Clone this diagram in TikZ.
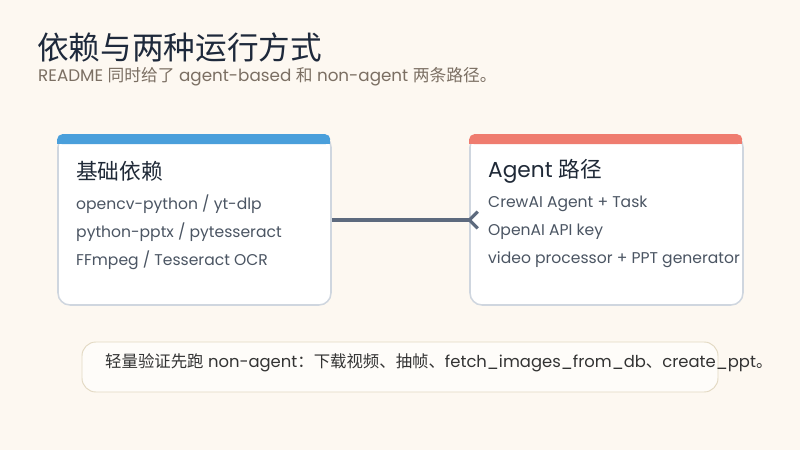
\documentclass[tikz,border=0pt]{standalone}
\usepackage{fontspec}
\setmainfont{Poppins}
\newfontfamily\cjk{Noto Sans CJK SC}
\usetikzlibrary{arrows.meta}
\definecolor{pagebg}{HTML}{FDF8F1}
\definecolor{titletext}{HTML}{1E293B}
\definecolor{subtext}{HTML}{7B6F63}
\definecolor{headtext}{HTML}{1F2937}
\definecolor{bodytext}{HTML}{4B5563}
\definecolor{cardline}{HTML}{CFD6DF}
\definecolor{barblue}{HTML}{4A9FDB}
\definecolor{barred}{HTML}{EF7C6F}
\definecolor{linkcol}{HTML}{5D6A7E}
\definecolor{noteline}{HTML}{E3D9C3}
\definecolor{notetext}{HTML}{333333}

\begin{document}
\begin{tikzpicture}[x=0.03cm,y=-0.03cm,
	every node/.style={inner sep=0pt,anchor=west},
	card/.style={draw=cardline, line width=1.3pt, fill=white, rounded corners=0.36cm, minimum width=8.19cm, minimum height=5.1cm, anchor=center},
	head/.style={font=\fontsize{18.5}{22}\selectfont, text=headtext},
	item/.style={font=\fontsize{13.3}{16}\selectfont, text=bodytext},
	link/.style={draw=linkcol, line width=2.6pt, shorten >=-0.3cm, -{Straight Barb[reversed,length=0.25cm,width=0.5cm]}}]
	\fill[pagebg] (0,0) rectangle (800,450);
	\node[font=\fontsize{27}{32}\selectfont\cjk, text=titletext] (title) at (37,47) {依赖与两种运行方式};
	\node[font=\fontsize{14.3}{17}\selectfont, text=subtext] (subtitle) at (38,77) {README {\cjk 同时给了} agent-based {\cjk 和} non-agent {\cjk 两条路径。}};

	\node[card] (deps) at (194.5,220) {};
	\fill[barblue, rounded corners=0.15cm] (deps.north west) rectangle ++(273,10);
	\fill[barblue] (deps.north west) ++(0,5) rectangle ++(273,5);
	\node[head] (depsHead) at (76,171) {\cjk 基础依赖};
	\node[item] (depsA) at (76,204) {opencv-python / yt-dlp};
	\node[item] (depsB) at (76,232) {python-pptx / pytesseract};
	\node[item] (depsC) at (76,260) {FFmpeg / Tesseract OCR};

	\node[card] (agent) at (606.5,220) {};
	\fill[barred, rounded corners=0.15cm] (agent.north west) rectangle ++(273,10);
	\fill[barred] (agent.north west) ++(0,5) rectangle ++(273,5);
	\node[head] (agentHead) at (488,171) {Agent {\cjk 路径}};
	\node[item] (agentA) at (488,204) {CrewAI Agent + Task};
	\node[item] (agentB) at (488,232) {OpenAI API key};
	\node[item] (agentC) at (488,260) {video processor + PPT generator};

	\draw[link] (deps.east) -- (agent.west);

	\node[draw=noteline, fill=white!60!pagebg, line width=0.8pt, rounded corners=0.42cm, minimum width=19.08cm, minimum height=1.5cm, anchor=center] (note) at (400,367) {};
	\node[font=\fontsize{14}{17}\selectfont, text=notetext] (noteText) at (105,363) {{\cjk 轻量验证先跑} non-agent{\cjk ：下载视频、抽帧、}fetch\_images\_from\_db{\cjk 、}create\_ppt{\cjk 。}};
\end{tikzpicture}
\end{document}
